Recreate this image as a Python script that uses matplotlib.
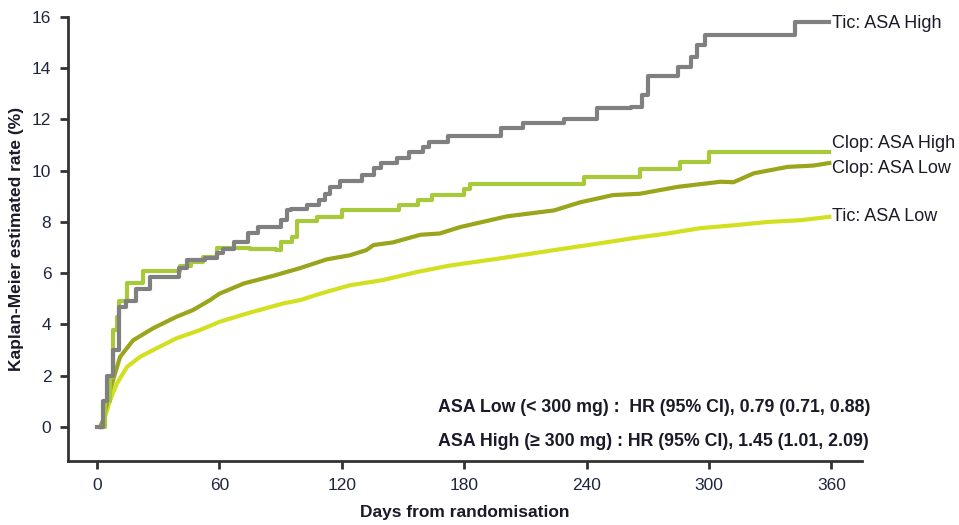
import matplotlib.pyplot as plt

plt.rcParams['font.family'] = ['Liberation Sans', 'DejaVu Sans']

# Tic: ASA High (step curve)
tic_high_t = [0, 3, 5, 8, 11, 14, 19, 26, 40, 44, 53, 59, 62, 67, 74, 79, 90, 93, 95,
              103, 109, 112, 114, 119, 130, 136, 139, 147, 153, 160, 163, 172, 198,
              209, 229, 245, 262, 267, 270, 285, 291, 294, 298, 342, 359]
tic_high_v = [0, 1.0, 2.0, 3.0, 4.7, 4.9, 5.4, 5.85, 6.2, 6.5, 6.6, 6.77, 6.95, 7.2, 7.55,
              7.8, 8.07, 8.46, 8.5, 8.65, 8.85, 9.1, 9.37, 9.6, 9.83, 10.1, 10.3, 10.5,
              10.74, 10.93, 11.12, 11.35, 11.65, 11.87, 12.0, 12.45, 12.5, 12.95, 13.7,
              14.06, 14.45, 14.9, 15.3, 15.8, 15.8]

# Clop: ASA High (step curve)
clop_high_t = [1.5, 4, 6.5, 8, 10, 11, 14.5, 22.6, 40.7, 46, 52, 58.7, 75, 88, 90, 95.5,
               98, 108, 120, 148, 157.5, 164, 180, 183, 238.6, 266, 286, 300, 359]
clop_high_v = [0, 1.0, 1.95, 3.8, 4.3, 4.9, 5.6, 6.1, 6.3, 6.45, 6.63, 7.0, 6.95, 6.9, 7.2,
               7.4, 8.03, 8.2, 8.45, 8.65, 8.85, 9.04, 9.3, 9.5, 9.75, 10.05, 10.35,
               10.75, 10.75]

# Clop: ASA Low
clop_low_t = [1.5, 3, 6.4, 11.3, 17.7, 27.5, 39, 47, 55.4, 60, 72, 86.5, 99.6, 112.6, 124,
              132, 135.6, 145, 158.5, 168, 178, 201, 224, 237, 253, 266, 284.6, 305.7,
              312, 322, 338.6, 351, 359]
clop_low_v = [0, 0.26, 1.43, 2.73, 3.38, 3.85, 4.3, 4.56, 4.95, 5.2, 5.6, 5.9, 6.2, 6.54,
              6.7, 6.9, 7.1, 7.2, 7.5, 7.55, 7.8, 8.22, 8.45, 8.77, 9.05, 9.1, 9.37, 9.57,
              9.55, 9.9, 10.15, 10.2, 10.3]

# Tic: ASA Low
tic_low_t = [2.5, 6.4, 9.8, 14.7, 21, 27.5, 39, 50.5, 60, 73.6, 91.3, 99.6, 109.4, 124,
             140, 157, 173, 197.7, 224, 246.8, 263, 279.7, 296, 312, 328.7, 345, 359]
tic_low_v = [0, 1.04, 1.7, 2.34, 2.73, 3.0, 3.46, 3.78, 4.1, 4.43, 4.82, 4.95, 5.2, 5.53,
             5.73, 6.05, 6.3, 6.58, 6.9, 7.17, 7.37, 7.55, 7.76, 7.87, 8.0, 8.07, 8.2]

labels = ['Tic: ASA High', 'Clop: ASA High', 'Clop: ASA Low', 'Tic: ASA Low']
label_y = [15.75, 11.05, 10.1, 8.2]

c_gray = '#808080'
c_lgreen = '#a8c93a'
c_olive = '#9aa51c'
c_yellow = '#d3e021'
txt = '#1a1a28'

fig = plt.figure(figsize=(9.59, 5.25), dpi=100)
ax = fig.add_axes([0.0709, 0.1219, 0.8279, 0.8457])

ax.plot(tic_low_t, tic_low_v, color=c_yellow, lw=3)
ax.plot(clop_low_t, clop_low_v, color=c_olive, lw=3)
ax.step(clop_high_t, clop_high_v, where='post', color=c_lgreen, lw=3)
ax.step(tic_high_t, tic_high_v, where='post', color=c_gray, lw=3)

for lab, yv in zip(labels, label_y):
    ax.text(360.5, yv, lab, fontsize=13, color=txt, va='center', ha='left', clip_on=False)

ax.set_xlim(-14.2, 375)
ax.set_ylim(-1.33, 16)
ax.set_xticks([0, 60, 120, 180, 240, 300, 360])
ax.set_yticks(range(0, 17, 2))

for s in ['top', 'right']:
    ax.spines[s].set_visible(False)
for s in ['left', 'bottom']:
    ax.spines[s].set_linewidth(2)
    ax.spines[s].set_color('#333333')
ax.tick_params(direction='out', length=6, width=2, color='#333333',
               labelsize=12.5, labelcolor='#1f2640', pad=6)

ax.set_xlabel('Days from randomisation', fontsize=12.5, fontweight='bold',
              color=txt, labelpad=9)
ax.set_ylabel('Kaplan-Meier estimated rate (%)', fontsize=12.5, fontweight='bold',
              color=txt, labelpad=6)

ax.text(0.466, 0.1194, 'ASA Low (< 300 mg) :  HR (95% CI), 0.79 (0.71, 0.88)',
        transform=ax.transAxes, fontsize=12.8, fontweight='bold', color=txt,
        ha='left', va='center')
ax.text(0.466, 0.0428, 'ASA High (\u2265 300 mg) : HR (95% CI), 1.45 (1.01, 2.09)',
        transform=ax.transAxes, fontsize=12.8, fontweight='bold', color=txt,
        ha='left', va='center')

fig.savefig('out.png', dpi=100)
